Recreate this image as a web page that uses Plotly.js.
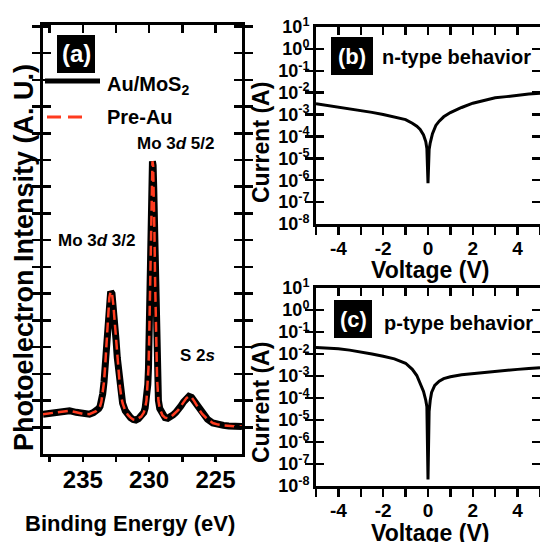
<!DOCTYPE html>
<html>
<head>
<meta charset="utf-8">
<script src="https://cdn.plot.ly/plotly-3.0.1.min.js"></script>
<style>html,body{margin:0;padding:0;background:#fff;}#chart{width:540px;height:542px;}</style>
</head>
<body>
<div id="chart"></div>
<script>
// ---- Panel (a): XPS spectrum ----
var bindingEnergy = [238.0,237.5,237.0,236.5,236.0,235.5,235.0,234.5,234.2,234.0,233.8,233.7,233.6,233.5,233.4,233.3,233.2,233.1,233.0,232.9,232.8,232.7,232.6,232.5,232.4,232.3,232.2,232.1,232.0,231.8,231.6,231.4,231.2,231.0,230.8,230.6,230.4,230.3,230.2,230.1,230.05,230.0,229.95,229.9,229.85,229.8,229.75,229.7,229.65,229.6,229.55,229.5,229.45,229.4,229.3,229.2,229.0,228.8,228.6,228.4,228.2,228.0,227.8,227.6,227.4,227.2,227.0,226.8,226.6,226.4,226.2,226.0,225.6,225.2,224.8,224.4,224.0,223.6,223.0];
var intensityAuMoS2 = [1.49,1.52,1.55,1.6,1.62,1.56,1.5,1.49,1.55,1.6,1.7,1.78,1.95,2.25,2.7,3.4,4.4,5.3,5.85,6.08,6.0,5.6,4.95,4.3,3.6,3.0,2.5,2.15,1.9,1.62,1.46,1.36,1.29,1.27,1.32,1.4,1.55,1.72,2.0,2.6,3.2,4.2,5.6,7.3,8.9,10.3,10.95,10.8,9.9,8.3,6.5,4.9,3.6,2.8,2.0,1.7,1.45,1.36,1.34,1.38,1.46,1.55,1.65,1.8,1.95,2.08,2.16,2.12,1.98,1.8,1.64,1.5,1.3,1.16,1.1,1.07,1.05,1.04,1.03];
var intensityPreAu = [1.49,1.52,1.55,1.6,1.62,1.56,1.5,1.49,1.55,1.6,1.7,1.78,1.95,2.25,2.7,3.4,4.4,5.3,5.85,6.08,6.0,5.6,4.95,4.3,3.6,3.0,2.5,2.15,1.9,1.62,1.46,1.36,1.29,1.27,1.32,1.4,1.55,1.72,2.0,2.6,3.2,4.2,5.6,7.3,8.9,10.3,10.95,10.8,9.9,8.3,6.5,4.9,3.6,2.8,2.0,1.7,1.45,1.36,1.34,1.38,1.46,1.55,1.65,1.8,1.95,2.08,2.16,2.12,1.98,1.8,1.64,1.5,1.3,1.16,1.1,1.07,1.05,1.04,1.03];
var energyTickVals = [237.5,235,232.5,230,227.5,225];
var energyTickText = ['','235','','230','','225'];

// ---- Panel (b): n-type I-V ----
var voltageN = [-5,-4.5,-4,-3.5,-3,-2.5,-2,-1.5,-1,-0.7,-0.5,-0.35,-0.2,-0.1,-0.05,0,0.05,0.1,0.2,0.35,0.5,0.7,1,1.5,2,2.5,3,3.5,4,4.5,5];
var currentN = [3.1e-3,2.6e-3,2.2e-3,1.9e-3,1.55e-3,1.26e-3,1.0e-3,7.9e-4,5.9e-4,4.0e-4,2.95e-4,2.1e-4,1.17e-4,5.8e-5,2.8e-5,7.4e-7,2.5e-5,5.1e-5,1.35e-4,3.2e-4,5.0e-4,7.9e-4,1.23e-3,2.1e-3,3.3e-3,4.4e-3,5.8e-3,6.6e-3,7.8e-3,8.7e-3,9.5e-3];

// ---- Panel (c): p-type I-V ----
var voltageP = [-5,-4.5,-4,-3.5,-3,-2.5,-2,-1.5,-1,-0.7,-0.5,-0.35,-0.2,-0.1,-0.05,0,0.05,0.1,0.16,0.3,0.5,0.7,1,1.5,2,2.5,3,3.5,4,4.5,5];
var currentP = [2.0e-2,1.9e-2,1.75e-2,1.5e-2,1.25e-2,1.0e-2,7.9e-3,6.0e-3,3.8e-3,2.0e-3,1.05e-3,5.0e-4,2.0e-4,7.9e-5,4.0e-5,2.0e-8,2.5e-5,7.9e-5,1.8e-4,3.7e-4,5.8e-4,7.6e-4,9.3e-4,1.15e-3,1.3e-3,1.45e-3,1.6e-3,1.8e-3,2.0e-3,2.2e-3,2.4e-3];

var voltageTickVals = [-5,-4,-3,-2,-1,0,1,2,3,4,5];
var voltageTickText = ['','-4','','-2','','0','','2','','4',''];
var currentTickVals = [1e-8,1e-7,1e-6,1e-5,1e-4,1e-3,1e-2,1e-1,1e0,1e1];
var currentTickText = ['10<sup>-8</sup>','10<sup>-7</sup>','10<sup>-6</sup>','10<sup>-5</sup>','10<sup>-4</sup>','10<sup>-3</sup>','10<sup>-2</sup>','10<sup>-1</sup>','10<sup>0</sup>','10<sup>1</sup>'];

var W = 540, H = 542;
function px(x){ return x / W; }
function py(y){ return 1 - y / H; }
var FAM = 'Liberation Sans, Arial, sans-serif';
function f(size, color){ return {family: FAM, size: size, color: color || '#000', weight: 'bold'}; }

var traces = [
  {x: bindingEnergy, y: intensityAuMoS2, xaxis: 'x', yaxis: 'y', mode: 'lines', name: 'Au/MoS2',
   line: {color: '#000', width: 7}, showlegend: false, hoverinfo: 'skip'},
  {x: bindingEnergy, y: intensityPreAu, xaxis: 'x', yaxis: 'y', mode: 'lines', name: 'Pre-Au',
   line: {color: '#ff3b1f', width: 2.5, dash: '10px,5px'}, showlegend: false, hoverinfo: 'skip'},
  {x: voltageN, y: currentN, xaxis: 'x2', yaxis: 'y2', mode: 'lines', name: 'n-type',
   line: {color: '#000', width: 3}, showlegend: false, hoverinfo: 'skip'},
  {x: voltageP, y: currentP, xaxis: 'x3', yaxis: 'y3', mode: 'lines', name: 'p-type',
   line: {color: '#000', width: 3}, showlegend: false, hoverinfo: 'skip'},
  // empty traces so the top (inside-tick) axes get their subplots
  {x: [], y: [], xaxis: 'x4', yaxis: 'y', showlegend: false, hoverinfo: 'skip'},
  {x: [], y: [], xaxis: 'x5', yaxis: 'y2', showlegend: false, hoverinfo: 'skip'},
  {x: [], y: [], xaxis: 'x6', yaxis: 'y3', showlegend: false, hoverinfo: 'skip'}
];

var axBase = {showline: true, linecolor: '#000', linewidth: 3, tickcolor: '#000', tickwidth: 2.5,
  showgrid: false, zeroline: false, fixedrange: true};
function ax(extra){ return Object.assign({}, axBase, extra); }

function bottomX(dom, rng, anchor, tv, tt, fs, standoff, tl){
  return ax({domain: dom, range: rng, anchor: anchor, mirror: false, side: 'bottom',
    ticks: 'outside', ticklen: tl,
    tickmode: 'array', tickvals: tv, ticktext: tt, tickfont: f(fs), ticklabelstandoff: standoff});
}
function topX(over, rng, anchor, tv, tl){
  return ax({overlaying: over, range: rng, anchor: anchor, side: 'top', mirror: false,
    ticks: 'inside', ticklen: tl, showticklabels: false,
    tickmode: 'array', tickvals: tv});
}

var layout = {
  width: W, height: H,
  margin: {l: 0, r: 0, t: 0, b: 0},
  paper_bgcolor: '#fff', plot_bgcolor: 'rgba(0,0,0,0)',
  showlegend: false,
  xaxis: bottomX([px(43), px(242)], [238, 223], 'y', energyTickVals, energyTickText, 24, -3, 5),
  xaxis4: topX('x', [238, 223], 'y', energyTickVals, 8),
  yaxis: ax({domain: [py(454), py(25)], range: [0, 16.05], anchor: 'x', mirror: 'allticks',
    ticks: 'inside', ticklen: 8, tickmode: 'linear', tick0: 0, dtick: 1, showticklabels: false}),

  xaxis2: bottomX([px(316), 1], [-5, 5], 'y2', voltageTickVals, voltageTickText, 19, -3, 8),
  xaxis5: topX('x2', [-5, 5], 'y2', voltageTickVals, 8),
  yaxis2: ax({domain: [py(224), py(27)], type: 'log', range: [-8, 1], anchor: 'x2', mirror: 'allticks',
    ticks: 'inside', ticklen: 8,
    tickmode: 'array', tickvals: currentTickVals, ticktext: currentTickText, tickfont: f(18)}),

  xaxis3: bottomX([px(316), 1], [-5, 5], 'y3', voltageTickVals, voltageTickText, 19, -3, 8),
  xaxis6: topX('x3', [-5, 5], 'y3', voltageTickVals, 8),
  yaxis3: ax({domain: [py(486), py(288)], type: 'log', range: [-8, 1], anchor: 'x3', mirror: 'allticks',
    ticks: 'inside', ticklen: 8,
    tickmode: 'array', tickvals: currentTickVals, ticktext: currentTickText, tickfont: f(18)}),

  shapes: [
    {type: 'rect', xref: 'paper', yref: 'paper', x0: px(57), x1: px(95), y0: py(73), y1: py(35), fillcolor: '#000', line: {width: 0}},
    {type: 'rect', xref: 'paper', yref: 'paper', x0: px(331), x1: px(373), y0: py(75), y1: py(37), fillcolor: '#000', line: {width: 0}},
    {type: 'rect', xref: 'paper', yref: 'paper', x0: px(334), x1: px(372), y0: py(338), y1: py(300), fillcolor: '#000', line: {width: 0}},
    {type: 'line', xref: 'paper', yref: 'paper', x0: px(45), x1: px(100), y0: py(81), y1: py(81), line: {color: '#000', width: 5}},
    {type: 'line', xref: 'paper', yref: 'paper', x0: px(47), x1: px(87), y0: py(117), y1: py(117), line: {color: '#ff3b1f', width: 3, dash: '14px,7px'}}
  ],
  annotations: [
    {text: '(a)', xref: 'paper', yref: 'paper', x: px(76), y: py(54), xanchor: 'center', yanchor: 'middle', showarrow: false, font: f(24, '#fff')},
    {text: 'Au/MoS<sub>2</sub>', xref: 'paper', yref: 'paper', x: px(105), y: py(86), xanchor: 'left', yanchor: 'middle', showarrow: false, font: f(20)},
    {text: 'Pre-Au', xref: 'paper', yref: 'paper', x: px(105), y: py(117), xanchor: 'left', yanchor: 'middle', showarrow: false, font: f(20)},
    {text: 'Mo 3<i>d</i> 5/2', xref: 'paper', yref: 'paper', x: px(175), y: py(143), xanchor: 'center', yanchor: 'middle', showarrow: false, font: f(17)},
    {text: 'Mo 3<i>d</i> 3/2', xref: 'paper', yref: 'paper', x: px(96), y: py(240), xanchor: 'center', yanchor: 'middle', showarrow: false, font: f(17)},
    {text: 'S 2<i>s</i>', xref: 'paper', yref: 'paper', x: px(197), y: py(355), xanchor: 'center', yanchor: 'middle', showarrow: false, font: f(17)},
    {text: 'Photoelectron Intensity (A. U.)', xref: 'paper', yref: 'paper', x: px(24), y: py(258), xanchor: 'center', yanchor: 'middle', textangle: -90, showarrow: false, font: f(27)},
    {text: 'Binding Energy (eV)', xref: 'paper', yref: 'paper', x: px(130), y: py(523), xanchor: 'center', yanchor: 'middle', showarrow: false, font: f(22)},
    {text: '(b)', xref: 'paper', yref: 'paper', x: px(352), y: py(56), xanchor: 'center', yanchor: 'middle', showarrow: false, font: f(22, '#fff')},
    {text: 'n-type behavior', xref: 'paper', yref: 'paper', x: px(380), y: py(57), xanchor: 'left', yanchor: 'middle', showarrow: false, font: f(20)},
    {text: '(c)', xref: 'paper', yref: 'paper', x: px(353), y: py(319), xanchor: 'center', yanchor: 'middle', showarrow: false, font: f(22, '#fff')},
    {text: 'p-type behavior', xref: 'paper', yref: 'paper', x: px(382), y: py(323), xanchor: 'left', yanchor: 'middle', showarrow: false, font: f(20)},
    {text: 'Current (A)', xref: 'paper', yref: 'paper', x: px(261), y: py(143), xanchor: 'center', yanchor: 'middle', textangle: -90, showarrow: false, font: f(23)},
    {text: 'Current (A)', xref: 'paper', yref: 'paper', x: px(261), y: py(403), xanchor: 'center', yanchor: 'middle', textangle: -90, showarrow: false, font: f(23)},
    {text: 'Voltage (V)', xref: 'paper', yref: 'paper', x: px(430), y: py(270), xanchor: 'center', yanchor: 'middle', showarrow: false, font: f(23)},
    {text: 'Voltage (V)', xref: 'paper', yref: 'paper', x: px(430), y: py(533), xanchor: 'center', yanchor: 'middle', showarrow: false, font: f(23)}
  ]
};

Plotly.newPlot('chart', traces, layout, {staticPlot: true, displayModeBar: false});
</script>
</body>
</html>
